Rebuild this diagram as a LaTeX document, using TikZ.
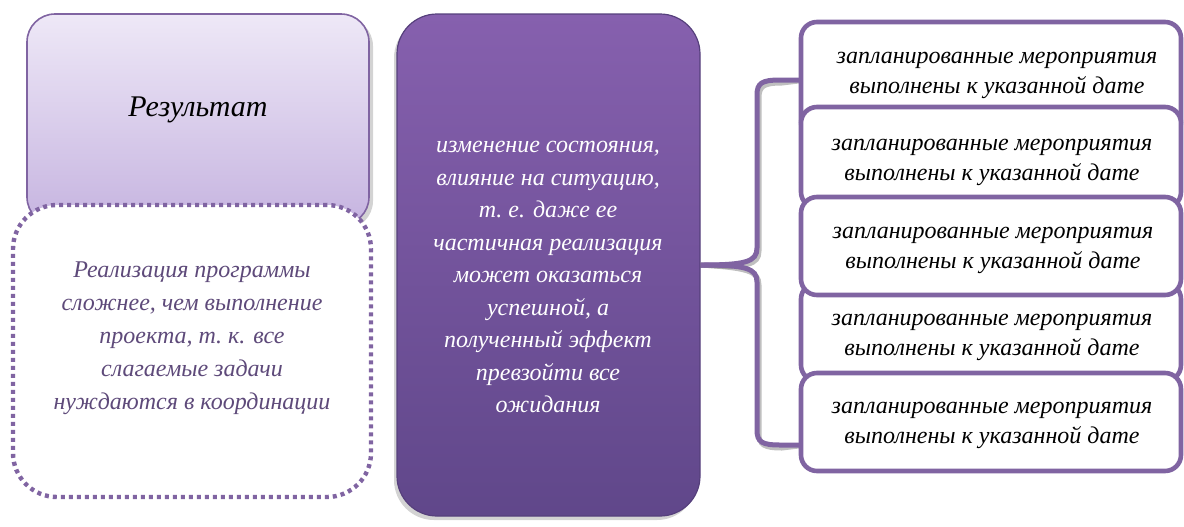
\documentclass[tikz,border=0pt]{standalone}
\usepackage{fontspec}
\setmainfont{Liberation Serif}
\usetikzlibrary{shadows,calc}
\definecolor{pborder}{HTML}{8064A2}
\definecolor{ptext}{HTML}{5E4A7A}
\definecolor{restop}{HTML}{EEE8F7}
\definecolor{resbot}{HTML}{C6B4E0}
\definecolor{ctop}{HTML}{8660AE}
\definecolor{cbot}{HTML}{60478A}
\tikzset{
  resbox/.style={draw=pborder, line width=0.8pt, rounded corners=14pt,
    top color=restop, bottom color=resbot, minimum width=171pt, minimum height=105.5pt,
    drop shadow={opacity=0.35, shadow xshift=2pt, shadow yshift=-2pt}},
  dotbox/.style={draw=pborder, line width=2.2pt, dash pattern=on 2pt off 2pt,
    rounded corners=22pt, fill=white, minimum width=179pt, minimum height=146pt},
  cbox/.style={draw=cbot!90!black, line width=0.6pt, rounded corners=20pt,
    top color=ctop, bottom color=cbot, minimum width=151.5pt, minimum height=251pt,
    drop shadow={opacity=0.35, shadow xshift=-1.5pt, shadow yshift=-2pt}},
  rbox/.style={draw=pborder, line width=2.3pt, rounded corners=8pt, fill=white,
    minimum width=190pt},
  rtxt/.style={align=center, font=\fontsize{12}{15}\selectfont\itshape},
  bracket/.style={draw=pborder, line width=2.5pt},
  bshadow/.style={draw=black, opacity=0.25, line width=2.5pt, xshift=1pt, yshift=-1.5pt},
}
\begin{document}
\begin{tikzpicture}[x=0.5pt,y=-0.5pt]
\useasboundingbox (0,0) rectangle (1184,526);
% left column
\node[resbox] (res) at (198,119.5) {};
\node[font=\fontsize{15}{17}\selectfont\itshape] (restxt) at (198,110) {Результат};
\node[dotbox] (dot) at (192,351) {};
\node[align=center, text=ptext, font=\fontsize{12}{16.5}\selectfont\itshape] (dottxt) at (192,338)
  {Реализация программы\\сложнее, чем выполнение\\проекта, т.~к. все\\слагаемые задачи\\нуждаются в координации};
% center
\node[cbox] (c) at (548.5,265) {};
\node[align=center, text=white, font=\fontsize{12}{16.25}\selectfont\itshape] (ctxt) at (548,277)
  {изменение состояния,\\влияние на ситуацию,\\т.~е. даже ее\\частичная реализация\\может оказаться\\успешной, а\\полученный эффект\\превзойти все\\ожидания};
% right boxes
\coordinate (r1p) at (991,80);
\coordinate (r5p) at (991,445);
\draw[bshadow]
  (c.east) .. controls (745,265) and (757,262) .. (757,248) -- (757,95)
  .. controls (757,83) and (762,80) .. (780,80) -- (r1p -| 805,0);
\draw[bshadow]
  (c.east) .. controls (745,265) and (757,268) .. (757,282) -- (757,430)
  .. controls (757,442) and (762,445) .. (780,445) -- (r5p -| 805,0);
\draw[bracket]
  (c.east) .. controls (745,265) and (757,262) .. (757,248) -- (757,95)
  .. controls (757,83) and (762,80) .. (780,80) -- (r1p -| 805,0);
\draw[bracket]
  (c.east) .. controls (745,265) and (757,268) .. (757,282) -- (757,430)
  .. controls (757,442) and (762,445) .. (780,445) -- (r5p -| 805,0);
\node[rbox, minimum height=58pt] (r1) at (991,80) {};
\node[rbox, minimum height=50.5pt] (r2) at (991,157.5) {};
\node[rbox, minimum height=49pt] (r4) at (991,332) {};
\node[rbox, minimum height=49pt] (r3) at (991,246) {};
\node[rbox, minimum height=49pt] (r5) at (991,422) {};
\node[rtxt] (t1) at (997,75) {запланированные мероприятия\\выполнены к указанной дате};
\node[rtxt] (t2) at (992,162.5) {запланированные мероприятия\\выполнены к указанной дате};
\node[rtxt] (t3) at (993,250.5) {запланированные мероприятия\\выполнены к указанной дате};
\node[rtxt] (t4) at (992,337) {запланированные мероприятия\\выполнены к указанной дате};
\node[rtxt] (t5) at (992,425.5) {запланированные мероприятия\\выполнены к указанной дате};
\end{tikzpicture}
\end{document}
